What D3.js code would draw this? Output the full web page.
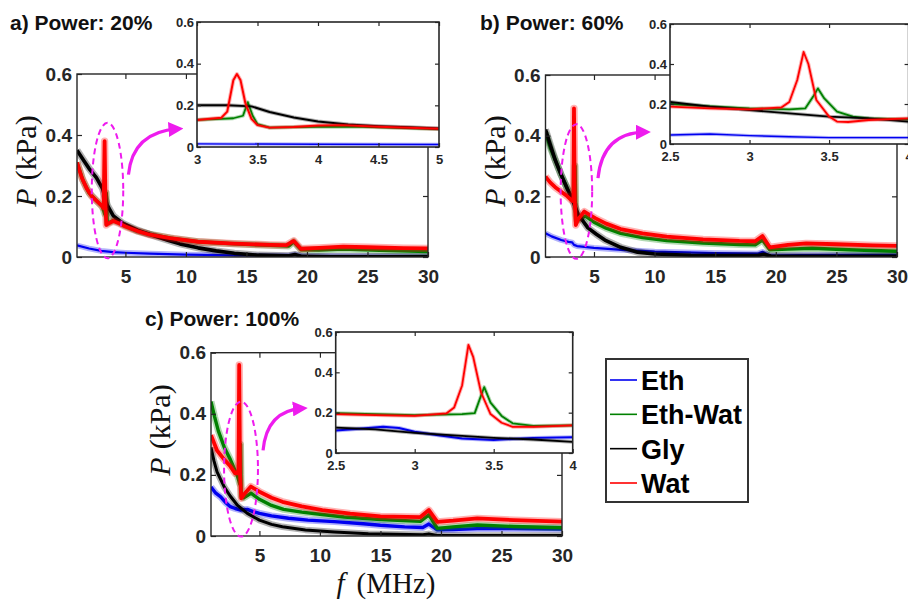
<!DOCTYPE html>
<html>
<head>
<meta charset="utf-8">
<script src="https://cdn.jsdelivr.net/npm/d3@7"></script>
<style>
  body { margin: 0; background: #fff; }
  text { font-family: "Liberation Sans", Arial, sans-serif; }
</style>
</head>
<body>
<div id="chart"></div>
<script>
// series names + colours (legend order)
const seriesNames = ["Eth", "Eth-Wat", "Gly", "Wat"];
const seriesColors = ["#0000f0", "#008000", "#000000", "#ff0000"];

// tick values
const yTickVals = [0, 0.2, 0.4, 0.6];
const mainXTicks = [5, 10, 15, 20, 25, 30];
const insetXTicksA = [3, 3.5, 4, 4.5, 5];
const insetXTicksBC = [2.5, 3, 3.5, 4];

// ---- panel a) Power 20% : [f (MHz), P (kPa)]
const aEth = [[1,0.038],[2,0.028],[3,0.02],[4,0.016],[5,0.014],[7,0.011],[10,0.008],[15,0.005],[18.5,0.005],[19,0.008],[19.6,0.003],[22,0.003],[30,0.002]];
const aEthWat = [[1,0.31],[1.5,0.25],[2,0.21],[2.6,0.185],[3.1,0.165],[3.3,0.14],[3.42,0.21],[3.5,0.11],[4,0.12],[4.5,0.112],[5,0.102],[6,0.085],[7,0.075],[9,0.06],[11,0.05],[14,0.043],[17,0.038],[18.5,0.036],[18.9,0.05],[19.5,0.024],[21,0.023],[23,0.026],[26,0.022],[30,0.018]];
const aGly = [[1,0.35],[1.5,0.32],[2,0.29],[2.6,0.26],[3.1,0.225],[3.5,0.17],[4,0.135],[4.8,0.11],[6,0.088],[7.3,0.07],[8.5,0.055],[9.5,0.043],[11,0.03],[12.5,0.02],[14,0.012],[16,0.006],[18.5,0.004],[19,0.008],[19.6,0.002],[22,0.001],[30,0.001]];
const aWat = [[1,0.31],[1.4,0.26],[1.8,0.225],[2.2,0.2],[2.6,0.185],[3,0.17],[3.2,0.16],[3.28,0.38],[3.36,0.16],[3.42,0.105],[3.6,0.11],[4,0.118],[4.5,0.11],[5,0.1],[6,0.085],[7,0.073],[8.7,0.062],[11,0.05],[14,0.044],[17,0.04],[18.3,0.039],[18.9,0.053],[19.5,0.027],[21,0.03],[23,0.034],[25,0.032],[28,0.029],[30,0.028]];
// inset a) 3-5 MHz
const aInEth = [[3,0.015],[4,0.013],[5,0.012]];
const aInEthWat = [[3,0.13],[3.2,0.135],[3.3,0.138],[3.38,0.15],[3.42,0.215],[3.46,0.15],[3.5,0.11],[3.6,0.093],[3.8,0.095],[4,0.097],[4.3,0.098],[4.6,0.093],[5,0.086]];
const aInGly = [[3,0.2],[3.25,0.2],[3.45,0.195],[3.6,0.168],[3.8,0.142],[4,0.122],[4.25,0.108],[4.5,0.1],[4.75,0.095],[5,0.089]];
const aInWat = [[3,0.13],[3.2,0.14],[3.25,0.17],[3.3,0.32],[3.33,0.35],[3.36,0.32],[3.4,0.21],[3.45,0.135],[3.5,0.105],[3.6,0.093],[3.8,0.096],[4,0.103],[4.2,0.105],[4.5,0.097],[5,0.088]];

// ---- panel b) Power 60%
const bEth = [[1,0.078],[1.5,0.068],[2.3,0.056],[2.9,0.05],[3.2,0.048],[3.35,0.04],[3.6,0.036],[5,0.03],[7,0.024],[10,0.018],[15,0.013],[18.5,0.011],[18.9,0.017],[19.5,0.005],[22,0.006],[30,0.007]];
const bEthWat = [[1,0.41],[1.4,0.36],[1.8,0.32],[2.3,0.27],[2.8,0.225],[3.2,0.195],[3.38,0.19],[3.44,0.3],[3.5,0.14],[3.6,0.12],[4,0.13],[4.3,0.135],[5,0.115],[6,0.095],[7.2,0.078],[9,0.064],[11,0.054],[14,0.046],[17,0.041],[18.3,0.04],[18.9,0.056],[19.5,0.024],[21,0.026],[23,0.029],[26,0.024],[30,0.019]];
const bGly = [[1,0.42],[1.4,0.37],[1.8,0.32],[2.3,0.27],[2.8,0.225],[3.2,0.19],[3.7,0.14],[4.5,0.096],[5.2,0.075],[5.9,0.056],[7.2,0.032],[8.6,0.016],[10,0.01],[13,0.006],[18.5,0.005],[19,0.009],[19.6,0.003],[30,0.002]];
const bWat = [[1,0.265],[1.4,0.245],[1.8,0.23],[2.3,0.215],[2.8,0.2],[3.2,0.185],[3.3,0.19],[3.35,0.49],[3.42,0.18],[3.5,0.105],[3.7,0.125],[4.2,0.15],[4.6,0.14],[5.1,0.128],[6,0.11],[7.2,0.092],[9,0.078],[11,0.067],[14,0.058],[17,0.053],[18.3,0.052],[18.9,0.069],[19.5,0.032],[21,0.04],[22.5,0.045],[25,0.042],[28,0.038],[30,0.037]];
// inset b) 2.5-4 MHz
const bInEth = [[2.5,0.045],[2.75,0.05],[3,0.042],[3.25,0.036],[3.5,0.032],[4,0.032]];
const bInEthWat = [[2.5,0.2],[2.75,0.188],[3,0.178],[3.25,0.173],[3.35,0.178],[3.4,0.237],[3.43,0.278],[3.47,0.228],[3.55,0.162],[3.65,0.137],[3.75,0.128],[4,0.123]];
const bInGly = [[2.5,0.21],[2.75,0.187],[3,0.17],[3.25,0.153],[3.5,0.137],[3.75,0.128],[4,0.112]];
const bInWat = [[2.5,0.187],[2.75,0.178],[3,0.173],[3.2,0.183],[3.25,0.21],[3.3,0.32],[3.34,0.46],[3.37,0.4],[3.42,0.22],[3.5,0.137],[3.55,0.112],[3.62,0.11],[3.75,0.12],[4,0.128]];

// ---- panel c) Power 100%
const cEth = [[1,0.16],[1.4,0.14],[1.8,0.128],[2.2,0.11],[2.6,0.096],[3,0.09],[3.45,0.085],[4,0.087],[4.5,0.08],[5,0.074],[6,0.066],[7.4,0.058],[9,0.052],[11.2,0.047],[13.6,0.04],[15,0.035],[17,0.03],[18.5,0.028],[19,0.039],[19.7,0.02],[21,0.021],[23,0.024],[26,0.024],[30,0.023]];
const cEthWat = [[1,0.44],[1.3,0.39],[1.6,0.345],[2.1,0.29],[2.6,0.25],[3.2,0.195],[3.38,0.17],[3.44,0.3],[3.5,0.13],[3.7,0.125],[4.3,0.14],[5,0.12],[6,0.1],[7,0.087],[8.5,0.078],[10,0.071],[12,0.062],[15,0.054],[18.3,0.048],[19,0.069],[19.7,0.025],[21,0.03],[23,0.036],[26,0.031],[30,0.027]];
const cGly = [[1,0.29],[1.25,0.245],[1.5,0.21],[2.1,0.16],[2.6,0.13],[3.2,0.1],[4,0.074],[5,0.052],[6,0.038],[6.9,0.03],[8.8,0.02],[11.2,0.013],[14,0.007],[18.5,0.004],[19,0.007],[19.7,0.002],[30,0.002]];
const cWat = [[1,0.33],[1.5,0.28],[2.1,0.25],[2.6,0.228],[3,0.205],[3.2,0.205],[3.27,0.22],[3.33,0.56],[3.4,0.2],[3.5,0.123],[3.8,0.14],[4.3,0.162],[5,0.145],[6,0.125],[6.9,0.112],[8.5,0.097],[10.2,0.085],[12.5,0.073],[15,0.064],[18.3,0.062],[19,0.085],[19.7,0.046],[21,0.05],[23,0.058],[26,0.052],[30,0.047]];
// inset c) 2.5-4 MHz
const cInEth = [[2.5,0.112],[2.65,0.12],[2.8,0.13],[2.9,0.124],[3,0.105],[3.15,0.088],[3.3,0.072],[3.5,0.065],[3.75,0.075],[4,0.078]];
const cInEthWat = [[2.5,0.198],[3,0.188],[3.3,0.193],[3.38,0.198],[3.42,0.285],[3.44,0.327],[3.48,0.25],[3.55,0.184],[3.62,0.147],[3.75,0.134],[4,0.137]];
const cInGly = [[2.5,0.126],[2.75,0.117],[3,0.1],[3.25,0.087],[3.5,0.075],[3.75,0.067],[4,0.055]];
const cInWat = [[2.5,0.193],[2.75,0.188],[3,0.184],[3.2,0.196],[3.25,0.226],[3.3,0.335],[3.34,0.536],[3.37,0.477],[3.42,0.3],[3.48,0.193],[3.55,0.15],[3.62,0.13],[3.75,0.13],[4,0.137]];

const width = 908, height = 600;
const axisColor = "#262626";
const magenta = "#ee1cee";

const svg = d3.select("#chart").append("svg")
  .attr("width", width)
  .attr("height", height);

const defs = svg.append("defs");
defs.append("marker")
  .attr("id", "arrowHead")
  .attr("viewBox", "0 0 10 10")
  .attr("refX", 6).attr("refY", 5)
  .attr("markerWidth", 15).attr("markerHeight", 15)
  .attr("markerUnits", "userSpaceOnUse")
  .attr("orient", "auto")
  .append("path")
  .attr("d", "M0,0 L10,5 L0,10 z")
  .attr("fill", magenta);

let clipId = 0;

// 画一个坐标框（主图或插图）
function drawPlot(box, xDomain, xTicks, seriesData, opt) {
  const w = box.x1 - box.x0, h = box.y1 - box.y0;
  const g = svg.append("g").attr("transform", `translate(${box.x0},${box.y0})`);
  const x = d3.scaleLinear().domain(xDomain).range([0, w]);
  const y = d3.scaleLinear().domain([0, 0.6]).range([h, 0]);

  if (opt.inset) {
    g.append("rect").attr("width", w).attr("height", h).attr("fill", "#fff");
  }

  const cid = "clip" + (clipId++);
  g.append("clipPath").attr("id", cid)
    .append("rect").attr("width", w).attr("height", h);

  const line = d3.line().x(d => x(d[0])).y(d => y(d[1]));
  const lines = g.append("g").attr("clip-path", `url(#${cid})`);

  seriesData.forEach((data, i) => {
    const sw = opt.widths[i];
    // 模糊的噪声带
    lines.append("path")
      .datum(data)
      .attr("d", line)
      .attr("fill", "none")
      .attr("stroke", seriesColors[i])
      .attr("stroke-opacity", 0.3)
      .attr("stroke-width", sw + opt.halo)
      .attr("stroke-linejoin", "round");
    lines.append("path")
      .datum(data)
      .attr("d", line)
      .attr("fill", "none")
      .attr("stroke", seriesColors[i])
      .attr("stroke-width", sw)
      .attr("stroke-linejoin", "round");
  });

  const fmt = d3.format("~g");
  const tl = opt.tickLen;

  const xb = g.append("g").attr("transform", `translate(0,${h})`)
    .call(d3.axisBottom(x).tickValues(xTicks).tickSizeInner(-tl).tickSizeOuter(0).tickFormat(fmt).tickPadding(opt.xPad));
  const xt = g.append("g")
    .call(d3.axisTop(x).tickValues(xTicks).tickSizeInner(-tl).tickSizeOuter(0).tickFormat(""));
  const yl = g.append("g")
    .call(d3.axisLeft(y).tickValues(yTickVals).tickSizeInner(-tl).tickSizeOuter(0).tickFormat(fmt).tickPadding(opt.yPad));
  const yr = g.append("g").attr("transform", `translate(${w},0)`)
    .call(d3.axisRight(y).tickValues(yTickVals).tickSizeInner(-tl).tickSizeOuter(0).tickFormat(""));

  [xb, xt, yl, yr].forEach(a => {
    a.select(".domain").remove();
    a.selectAll("line").attr("stroke", axisColor).attr("stroke-width", 1.2);
    a.selectAll("text")
      .attr("fill", axisColor)
      .style("font-family", "'Liberation Sans', Arial, sans-serif")
      .style("font-weight", "bold")
      .style("font-size", opt.fontSize + "px");
  });

  g.append("rect")
    .attr("width", w).attr("height", h)
    .attr("fill", "none")
    .attr("stroke", axisColor)
    .attr("stroke-width", opt.inset ? 1.6 : 1.4);

  return { g, x, y };
}

// 虚线椭圆 + 弯箭头
function drawCallout(plot, ell, arrow) {
  const { g, x, y } = plot;
  g.append("ellipse")
    .attr("cx", x(ell.f)).attr("cy", y(ell.p))
    .attr("rx", x(ell.f + ell.df) - x(ell.f))
    .attr("ry", y(0) - y(ell.dp))
    .attr("fill", "none")
    .attr("stroke", magenta)
    .attr("stroke-width", 2)
    .attr("stroke-dasharray", "6,4");

  const s = [x(arrow.from[0]), y(arrow.from[1])];
  const c = [x(arrow.ctrl[0]), y(arrow.ctrl[1])];
  const e = [x(arrow.to[0]), y(arrow.to[1])];
  g.append("path")
    .attr("d", `M${s[0]},${s[1]} Q${c[0]},${c[1]} ${e[0]},${e[1]}`)
    .attr("fill", "none")
    .attr("stroke", magenta)
    .attr("stroke-width", 3.2)
    .attr("marker-end", "url(#arrowHead)");
}

function yLabel(cx, cy) {
  const t = svg.append("text")
    .attr("transform", `translate(${cx},${cy}) rotate(-90)`)
    .attr("text-anchor", "middle")
    .style("font-family", "'Liberation Serif', 'Times New Roman', serif")
    .style("font-size", "30px")
    .attr("fill", "#111");
  t.append("tspan").style("font-style", "italic").text("P");
  t.append("tspan").attr("dx", 8).text("(kPa)");
}

function title(tx, ty, str) {
  svg.append("text")
    .attr("x", tx).attr("y", ty)
    .style("font-weight", "bold")
    .style("font-size", "21px")
    .attr("fill", "#111")
    .text(str);
}

const mainOpt = { tickLen: 5, xPad: 13, yPad: 5, fontSize: 19, halo: 3.5, widths: [2.2, 3.4, 3.6, 3.8] };
const insetOpt = { inset: true, tickLen: 4, xPad: 8, yPad: 3, fontSize: 13, halo: 2, widths: [1.4, 1.8, 2, 2] };

// ---- panel a
const pa = drawPlot({ x0: 77, x1: 428, y0: 74, y1: 257 }, [1, 30], mainXTicks, [aEth, aEthWat, aGly, aWat], mainOpt);
drawCallout(pa, { f: 3.52, p: 0.218, df: 1.3, dp: 0.222 }, { from: [5.25, 0.27], ctrl: [5.6, 0.41], to: [9.3, 0.42] });
drawPlot({ x0: 197, x1: 439, y0: 22, y1: 147 }, [3, 5], insetXTicksA, [aInEth, aInEthWat, aInGly, aInWat], insetOpt);
title(10, 30, "a) Power: 20%");
yLabel(36, 161);

// ---- panel b
const pb = drawPlot({ x0: 545.5, x1: 897, y0: 75, y1: 257 }, [1, 30], mainXTicks, [bEth, bEthWat, bGly, bWat], mainOpt);
drawCallout(pb, { f: 3.55, p: 0.216, df: 1.3, dp: 0.222 }, { from: [5.33, 0.26], ctrl: [5.7, 0.41], to: [9.2, 0.412] });
drawPlot({ x0: 670, x1: 908.6, y0: 24, y1: 144 }, [2.5, 4], insetXTicksBC, [bInEth, bInEthWat, bInGly, bInWat], Object.assign({}, insetOpt, { widths: [1.4, 1.8, 1.8, 1.8] }));
title(480, 30, "b) Power: 60%");
yLabel(505, 161);

// ---- panel c
const pc = drawPlot({ x0: 211, x1: 562, y0: 352.7, y1: 536 }, [1, 30], mainXTicks, [cEth, cEthWat, cGly, cWat], Object.assign({}, mainOpt, { widths: [3.4, 3.4, 3, 3.8] }));
drawCallout(pc, { f: 3.48, p: 0.219, df: 1.4, dp: 0.221 }, { from: [5.3, 0.28], ctrl: [5.6, 0.41], to: [8.5, 0.418] });
drawPlot({ x0: 335.7, x1: 572.7, y0: 332, y1: 453 }, [2.5, 4], insetXTicksBC, [cInEth, cInEthWat, cInGly, cInWat], Object.assign({}, insetOpt, { widths: [2, 1.8, 1.8, 1.8] }));
title(145, 326, "c) Power: 100%");
yLabel(170, 430);

// x label
const xl = svg.append("text")
  .attr("x", 386).attr("y", 593)
  .attr("text-anchor", "middle")
  .style("font-family", "'Liberation Serif', 'Times New Roman', serif")
  .style("font-size", "29px")
  .attr("fill", "#111");
xl.append("tspan").style("font-style", "italic").text("f");
xl.append("tspan").attr("dx", 12).text("(MHz)");

// ---- legend
const legend = svg.append("g").attr("transform", "translate(606,359)");
legend.append("rect")
  .attr("width", 142).attr("height", 143)
  .attr("fill", "#fff")
  .attr("stroke", "#333")
  .attr("stroke-width", 2);
const rowY = d3.scalePoint().domain(seriesNames).range([21, 124]);
seriesNames.forEach((name, i) => {
  legend.append("line")
    .attr("x1", 4).attr("x2", 31)
    .attr("y1", rowY(name)).attr("y2", rowY(name))
    .attr("stroke", seriesColors[i])
    .attr("stroke-width", 1.6);
  legend.append("text")
    .attr("x", 35).attr("y", rowY(name) + 10)
    .style("font-weight", "bold")
    .style("font-size", "27px")
    .attr("fill", "#000")
    .text(name);
});
</script>
</body>
</html>
